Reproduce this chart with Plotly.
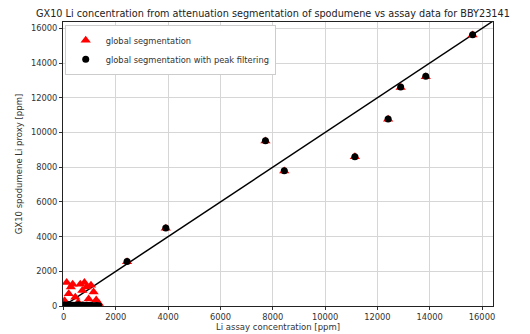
import plotly.graph_objects as go

# High-grade samples (assay ppm vs proxy ppm)
assay_high = [2430, 3910, 7720, 8440, 11140, 12410, 12890, 13850, 15640]
seg_high = [2550, 4480, 9510, 7780, 8600, 10760, 12600, 13220, 15620]
peak_high = [2560, 4490, 9530, 7790, 8610, 10780, 12620, 13240, 15640]

# Low-grade samples
assay_low = [40, 120, 200, 280, 350, 450, 560, 640, 720, 800, 880, 960, 1050, 1150, 1250, 1350]
seg_low = [300, 1350, 700, 1100, 1250, 500, 200, 1250, 900, 1350, 1100, 400, 1200, 800, 350, 150]
peak_low = [60, 30, 80, 20, 50, 40, 70, 30, 60, 20, 50, 30, 40, 20, 30, 10]

assay = assay_low + assay_high
seg = seg_low + seg_high
peak = peak_low + peak_high

line_x = [0, 16400]
line_y = [0, 16400]

fig = go.Figure()
fig.add_trace(go.Scatter(x=line_x, y=line_y, mode="lines",
                         line=dict(color="black", width=1.5), showlegend=False))
fig.add_trace(go.Scatter(x=assay, y=seg, mode="markers", name="global segmentation",
                         marker=dict(symbol="triangle-up", color="red", size=9)))
fig.add_trace(go.Scatter(x=assay, y=peak, mode="markers",
                         name="global segmentation with peak filtering",
                         marker=dict(symbol="circle", color="black", size=7)))

axis_common = dict(
    showgrid=True, gridcolor="#d6d6d6", gridwidth=1,
    showline=True, linecolor="#222", linewidth=1, mirror=True,
    ticks="outside", ticklen=3, tickcolor="#333", tickwidth=1,
    zeroline=False, tickfont=dict(size=8.3, color="#333"),
    dtick=2000, tick0=0, tickformat="d", automargin=False,
)

fig.update_layout(
    width=530, height=334,
    margin=dict(l=63, r=37, t=22, b=28),
    paper_bgcolor="white", plot_bgcolor="white",
    font=dict(family="DejaVu Sans", color="#333"),
    title=dict(text="GX10 Li concentration from attenuation segmentation of spodumene vs assay data for BBY23141",
               x=0.515, xanchor="center", y=0.96, yanchor="middle",
               font=dict(size=9.7, color="#222")),
    xaxis=dict(range=[-20, 16420],
               title=dict(text="Li assay concentration [ppm]", font=dict(size=8.5, color="#333"), standoff=3),
               **axis_common),
    yaxis=dict(range=[0, 16370],
               title=dict(text="GX10 spodumene Li proxy [ppm]", font=dict(size=8.5, color="#333"), standoff=6),
               **axis_common),
    legend=dict(x=0.004, y=0.99, xanchor="left", yanchor="top",
                bgcolor="white", bordercolor="#cccccc", borderwidth=1,
                font=dict(size=8.3, color="#333"), itemsizing="trace",
                tracegroupgap=0),
)

fig.write_html("out.html",
               config={"displayModeBar": False},
               post_script="document.body.style.margin='0px';document.body.style.padding='0px';")
